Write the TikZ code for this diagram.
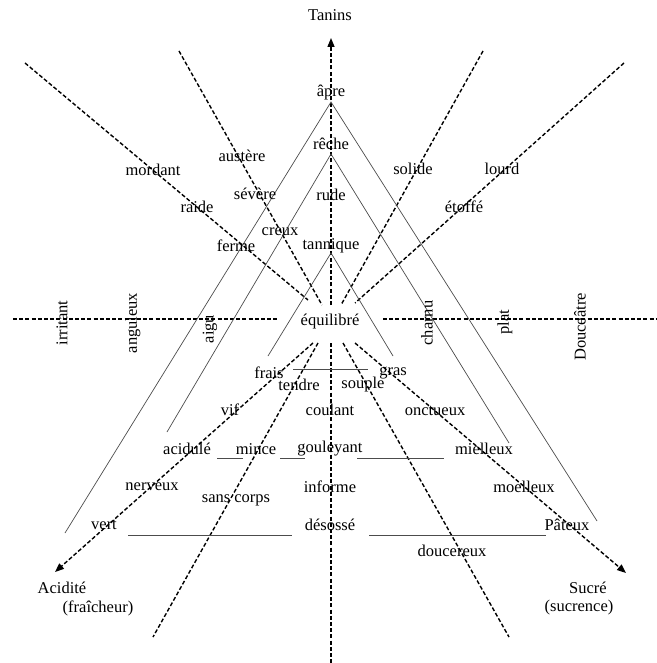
\documentclass[tikz,border=0pt]{standalone}
\usepackage{fontspec}
\setmainfont{Liberation Serif}
\usetikzlibrary{arrows.meta,positioning}
\tikzset{
  axe/.style={line width=1.4pt, dash pattern=on 4pt off 2.2pt},
  axefleche/.style={axe, -{Triangle[length=9pt,width=7pt]}},
  trait/.style={line width=0.7pt, black!70},
  mot/.style={inner sep=0pt, font=\fontsize{16.5}{18}\selectfont},
  motv/.style={mot, rotate=90},
}

\begin{document}
\begin{tikzpicture}[x=1pt,y=-1pt]
    \useasboundingbox (0,0) rectangle (656,663);

    % axes
    \coordinate (haut) at (331,38);
    \coordinate (centreH) at (331,305);
    \coordinate (centreB) at (331,343);
    \coordinate (bas) at (331,663);
    \coordinate (gauche) at (13,319);
    \coordinate (gaucheC) at (279,319);
    \coordinate (droiteC) at (383,319);
    \coordinate (droite) at (656,319);
    \draw[axefleche] (centreH) -- (haut);
    \draw[axe] (centreB) -- (bas);
    \draw[axe] (gauche) -- (gaucheC);
    \draw[axe] (droiteC) -- (droite);

    % diagonales en haut
    \coordinate (hg1) at (25,63);   \coordinate (cg1) at (308,300);
    \coordinate (hg2) at (179,51);  \coordinate (cg2) at (322,305);
    \coordinate (hd2) at (483,51);  \coordinate (cd2) at (341,305);
    \coordinate (hd1) at (624,63);  \coordinate (cd1) at (355,303);
    \draw[axe] (hg1) -- (cg1);
    \draw[axe] (hg2) -- (cg2);
    \draw[axe] (hd2) -- (cd2);
    \draw[axe] (hd1) -- (cd1);

    % diagonales en bas
    \coordinate (bg1) at (313,343); \coordinate (pacide) at (55,572);
    \coordinate (bg2) at (318,343); \coordinate (fg2) at (153,637);
    \coordinate (bd2) at (343,343); \coordinate (fd2) at (509,637);
    \coordinate (bd1) at (355,343); \coordinate (psucre) at (626,573);
    \draw[axefleche] (bg1) -- (pacide);
    \draw[axe] (bg2) -- (fg2);
    \draw[axe] (bd2) -- (fd2);
    \draw[axefleche] (bd1) -- (psucre);

    % triangles
    \coordinate (s1) at (331,102);
    \coordinate (s2) at (331,154);
    \coordinate (s3) at (331,253);
    \coordinate (g1) at (65,533);  \coordinate (d1) at (597,521);
    \coordinate (g2) at (167,432); \coordinate (d2) at (509,443);
    \coordinate (g3) at (268,356); \coordinate (d3) at (393,356);
    \draw[trait] (g1) -- (s1) -- (d1);
    \draw[trait] (g2) -- (s2) -- (d2);
    \draw[trait] (g3) -- (s3) -- (d3);

    % traits horizontaux
    \draw[trait] (293,369) -- (368,369);
    \draw[trait] (217,458) -- (243,458);
    \draw[trait] (280,458) -- (305,458);
    \draw[trait] (357,458) -- (444,458);
    \draw[trait] (128,535) -- (292,535);
    \draw[trait] (369,535) -- (546,535);

    % tanins
    \node[mot] (tanins) at (330,15) {Tanins};
    \node[mot] (apre) at (331,93) {âpre};
    \node[mot] (reche) at (331,144) {rêche};
    \node[mot] (rude) at (331,195) {rude};
    \node[mot] (tannique) at (331,246) {tannique};
    \node[mot] (austere) at (242,156) {austère};
    \node[mot] (mordant) at (153,170) {mordant};
    \node[mot] (severe) at (255,194) {sévère};
    \node[mot] (raide) at (197,207) {raide};
    \node[mot] (creux) at (280,232) {creux};
    \node[mot] (ferme) at (236,246) {ferme};
    \node[mot] (solide) at (413,169) {solide};
    \node[mot] (lourd) at (502,169) {lourd};
    \node[mot] (etoffe) at (464,207) {étoffé};

    % axe horizontal
    \node[motv] (irritant) at (62,323) {irritant};
    \node[motv] (anguleux) at (133,323) {anguleux};
    \node[motv] (aigu) at (210,329) {aigu};
    \node[mot] (equilibre) at (330,322) {équilibré};
    \node[motv] (charnu) at (427,323) {charnu};
    \node[motv] (plat) at (505,322) {plat};
    \node[motv] (douceatre) at (580,327) {Douceâtre};

    % acidite / sucre
    \node[mot] (frais) at (269,373) {frais};
    \node[mot] (tendre) at (299,385) {tendre};
    \node[mot] (souple) at (363,385) {souple};
    \node[mot] (gras) at (393,373) {gras};
    \node[mot] (vif) at (230,410) {vif};
    \node[mot] (coulant) at (330,410) {coulant};
    \node[mot] (onctueux) at (435,411) {onctueux};
    \node[mot] (acidule) at (187,449) {acidulé};
    \node[mot] (mince) at (256,449) {mince};
    \node[mot] (gouleyant) at (330,449) {gouleyant};
    \node[mot] (mielleux) at (484,449) {mielleux};
    \node[mot] (nerveux) at (152,487) {nerveux};
    \node[mot] (sanscorps) at (236,500) {sans corps};
    \node[mot] (informe) at (330,487) {informe};
    \node[mot] (moelleux) at (524,487) {moelleux};
    \node[mot] (vert) at (104,525) {vert};
    \node[mot] (desosse) at (330,525) {désossé};
    \node[mot] (pateux) at (567,525) {Pâteux};
    \node[mot] (doucereux) at (452,551) {doucereux};
    \node[mot] (acidite) at (62,588) {Acidité};
    \node[mot] (fraicheur) at (98,608) {(fraîcheur)};
    \node[mot] (sucre) at (588,588) {Sucré};
    \node[mot] (sucrence) at (579,608) {(sucrence)};
\end{tikzpicture}
\end{document}
